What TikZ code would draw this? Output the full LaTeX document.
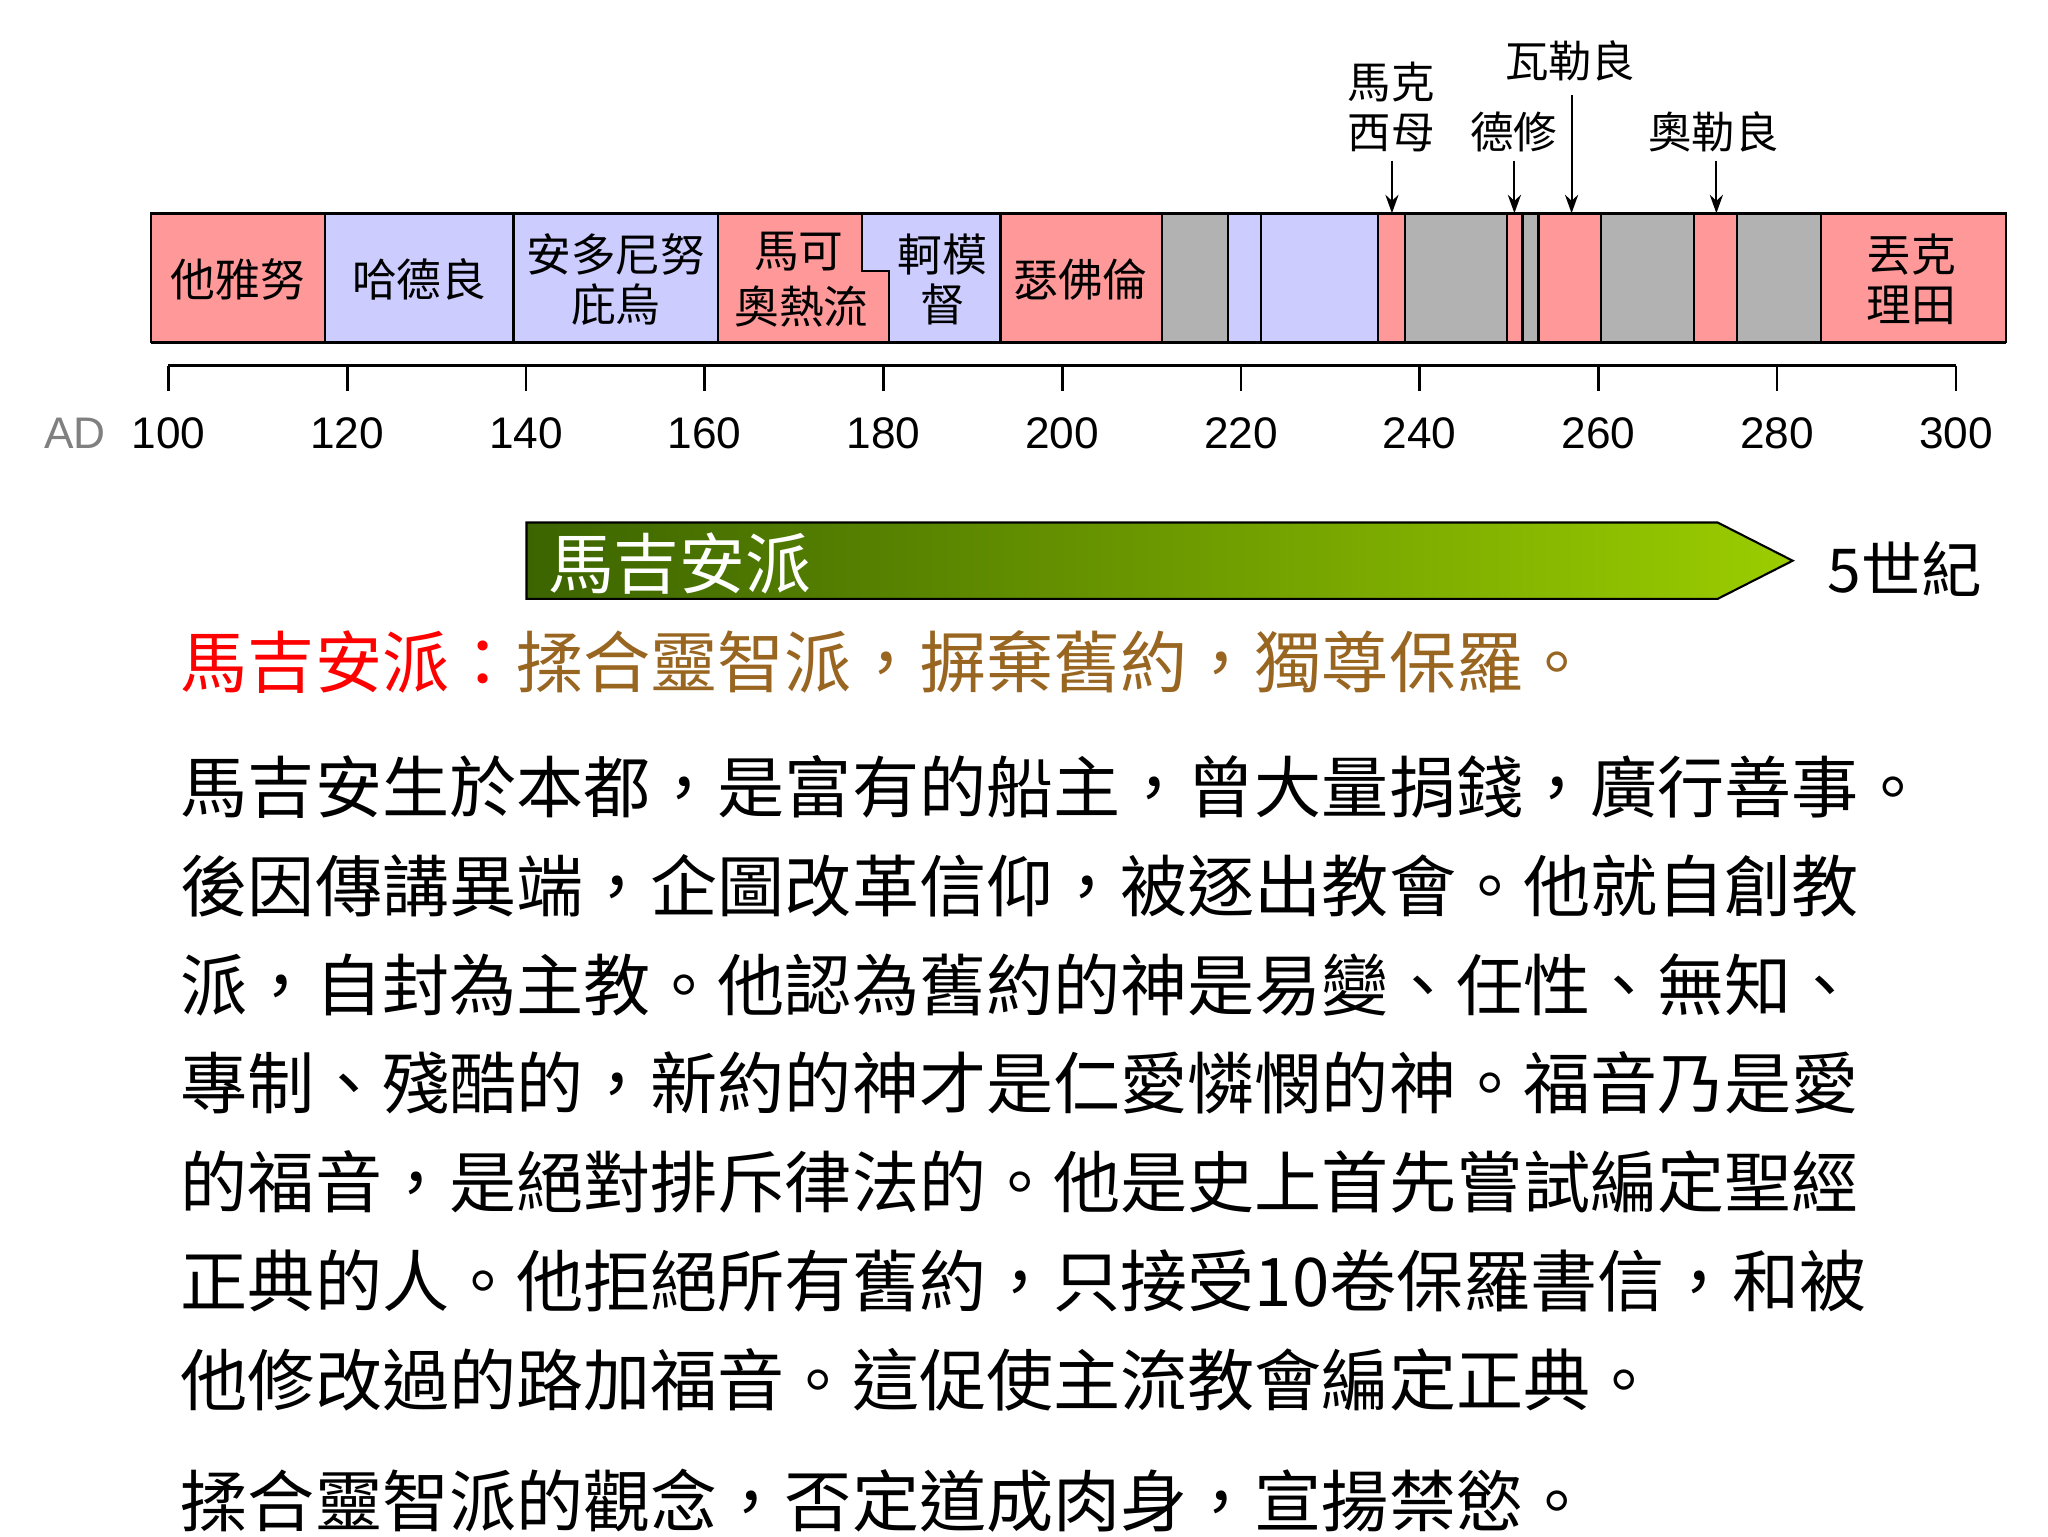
\documentclass[tikz,border=0pt]{standalone}
\usepackage{fontspec}
\setmainfont{Noto Sans CJK TC}
\newfontfamily\numfont{Liberation Sans}
\usetikzlibrary{arrows.meta}
\definecolor{pk}{RGB}{255,153,153}
\definecolor{bl}{RGB}{204,204,255}
\definecolor{gy}{RGB}{178,178,178}
\definecolor{brn}{RGB}{153,102,34}
\definecolor{dg}{RGB}{60,100,0}
\definecolor{lg}{RGB}{155,205,0}
\tikzset{seg/.style={draw=black,line width=0.8pt},
 blab/.style={font=\fontsize{17}{19}\selectfont,align=center,inner sep=0pt},
 tlab/.style={font=\fontsize{16.5}{19}\selectfont,align=center,inner sep=0pt},
 num/.style={font=\numfont\fontsize{16.8}{18}\selectfont,inner sep=0pt},
 body/.style={font=\fontsize{25.5}{28}\selectfont,anchor=west,inner sep=0pt},
 pt/.style={-{Stealth[length=7pt,width=5pt]},line width=0.8pt}}
\def\Y#1{(128+(#1-100)*6.79)}
\begin{document}
\begin{tikzpicture}[x=0.5pt,y=-0.5pt]
\useasboundingbox (0,0) rectangle (1556,1167);
\fill[white] (0,0) rectangle (1556,1167);
\foreach \a/\b/\c in {98.0/117.5/pk,117.5/138.6/bl,138.6/161.5/bl,193.1/211.2/pk,211.2/218.6/gy,218.6/222.2/bl,222.2/235.3/bl,235.3/238.4/pk,238.4/249.8/gy,249.8/251.5/pk,251.5/253.3/gy,253.3/260.3/pk,260.3/270.7/gy,270.7/275.5/pk,275.5/284.9/gy,284.9/305.6/pk}
  \draw[seg,fill=\c] ({\Y{\a}},162) rectangle ({\Y{\b}},260);
\draw[seg,fill=pk] ({\Y{161.5}},162) -- ({\Y{177.6}},162) -- ({\Y{177.6}},206) -- ({\Y{180.6}},206) -- ({\Y{180.6}},260) -- ({\Y{161.5}},260) -- cycle;
\draw[seg,fill=bl] ({\Y{177.6}},162) -- ({\Y{193.1}},162) -- ({\Y{193.1}},260) -- ({\Y{180.6}},260) -- ({\Y{180.6}},206) -- ({\Y{177.6}},206) -- cycle;
\draw[line width=1.2pt] ({\Y{98.0}},162) -- ({\Y{305.6}},162) ({\Y{98.0}},260) -- ({\Y{305.6}},260);
\node[blab] (s1) at ({(\Y{98.0}+\Y{117.5})/2},212) {他雅努};
\node[blab] (s2) at ({(\Y{117.5}+\Y{138.6})/2},212) {哈德良};
\node[blab] (s3) at ({(\Y{138.6}+\Y{161.5})/2},212) {安多尼努\\庇烏};
\node[blab] (s4a) at (607,191) {馬可};
\node[blab] (s4b) at (609,233) {奧熱流};
\node[blab] (s5) at (716,212) {軻模\\督};
\node[blab] (s6) at (821,212) {瑟佛倫};
\node[blab] (s7) at (1452,212) {丟克\\理田};
\node[tlab] (m) at (1057,81) {馬克\\西母};
\node[tlab] (d) at (1150,100) {德修};
\node[tlab] (w) at (1193,46) {瓦勒良};
\node[tlab] (a) at (1302,100) {奧勒良};
\coordinate (me) at ({\Y{236.9}},162);
\coordinate (de) at ({\Y{250.6}},162);
\coordinate (we) at ({\Y{257}},162);
\coordinate (ae) at ({\Y{273.2}},162);
\draw[pt] (me |- 0,122) -- (me);
\draw[pt] (de |- 0,122) -- (de);
\draw[pt] (we |- 0,72) -- (we);
\draw[pt] (ae |- 0,122) -- (ae);
\draw[line width=1.2pt] (128,278) -- (1486,278);
\foreach \i in {0,...,10}{
  \draw[line width=1pt] ({128+\i*135.8},278) -- ({128+\i*135.8},297);
  \node[num] (t\i) at ({128+\i*135.8},329) {\the\numexpr100+\i*20\relax};
}
\node[num,text=gray] (ad) at (57,329) {AD};
\shade[left color=dg,right color=lg,draw=black,line width=0.8pt] (400,397) -- (1305,397) -- (1362,426) -- (1305,455) -- (400,455) -- cycle;
\node[font=\fontsize{25}{28}\selectfont,text=white,anchor=west,inner sep=0pt] (mj) at (416,428) {馬吉安派};
\node[font=\fontsize{23}{26}\selectfont,anchor=west,inner sep=0pt] (c5) at (1388,432) {5世紀};
\node[body] (h) at (137,503) {\textcolor{red}{馬吉安派：}\textcolor{brn}{揉合靈智派，摒棄舊約，獨尊保羅。}};
\node[body] (l1) at (137,598) {馬吉安生於本都，是富有的船主，曾大量捐錢，廣行善事。};
\node[body] (l2) at (137,673) {後因傳講異端，企圖改革信仰，被逐出教會。他就自創教};
\node[body] (l3) at (137,748) {派，自封為主教。他認為舊約的神是易變、任性、無知、};
\node[body] (l4) at (137,823) {專制、殘酷的，新約的神才是仁愛憐憫的神。福音乃是愛};
\node[body] (l5) at (137,898) {的福音，是絕對排斥律法的。他是史上首先嘗試編定聖經};
\node[body] (l6) at (137,973) {正典的人。他拒絕所有舊約，只接受10卷保羅書信，和被};
\node[body] (l7) at (137,1048) {他修改過的路加福音。這促使主流教會編定正典。};
\node[body] (l8) at (137,1140) {揉合靈智派的觀念，否定道成肉身，宣揚禁慾。};
\end{tikzpicture}
\end{document}
